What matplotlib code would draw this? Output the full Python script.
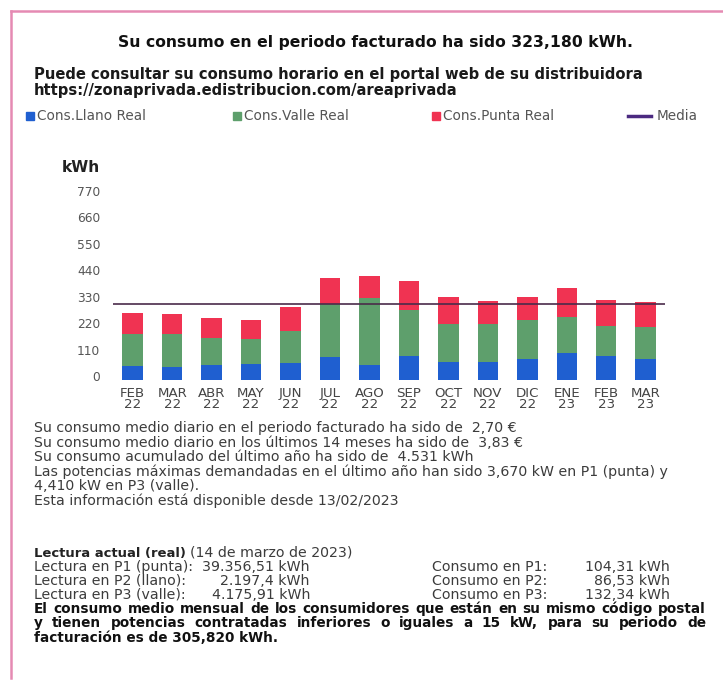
import numpy as np
import matplotlib
matplotlib.use('Agg')
import matplotlib.pyplot as plt
import matplotlib.transforms as mtransforms
from matplotlib.patches import Rectangle
from matplotlib.lines import Line2D

plt.rcParams['font.family'] = ['DejaVu Sans']

# Consumo mensual (kWh) por periodo
meses = ['FEB', 'MAR', 'ABR', 'MAY', 'JUN', 'JUL', 'AGO', 'SEP', 'OCT', 'NOV', 'DIC', 'ENE', 'FEB', 'MAR']
anios = ['22', '22', '22', '22', '22', '22', '22', '22', '22', '22', '22', '23', '23', '23']
llano = [58, 55, 62, 65, 72, 94, 62, 100, 75, 75, 86, 113, 100, 86.53]
valle = [133, 134, 113, 107, 131, 221, 277, 190, 156, 156, 165, 150, 125, 132.34]
punta = [89, 87, 84, 79, 101, 107, 94, 120, 113, 97, 95, 119, 108, 104.31]
media = 316
yticks = [0, 110, 220, 330, 440, 550, 660, 770]

AZUL = '#1f5fd0'
VERDE = '#5e9f6c'
ROJO = '#f03352'
MEDIA_COL = '#4a2b4a'
GRIS = '#3c3c3c'

W, H = 723, 682
fig = plt.figure(figsize=(W / 100, H / 100), dpi=100)
fig.patch.set_facecolor('white')
rend = fig.canvas.get_renderer()

# coordenadas en pixeles desde la esquina superior izquierda
px = mtransforms.Affine2D().scale(1 / W, -1 / H).translate(0, 1) + fig.transFigure


def txt(x, y, s, **kw):
    kw.setdefault('color', GRIS)
    kw.setdefault('va', 'center')
    return fig.text(x, y, s, transform=px, **kw)


def ancho(t):
    return t.get_window_extent(rend).width


def ajustar(t, w):
    # escala el tamaño de letra para que el texto ocupe w pixeles
    t.set_fontsize(t.get_fontsize() * w / ancho(t))
    return t.get_fontsize()


# marco rosa
fig.add_artist(Line2D([11, W], [11, 11], transform=px, color='#e58ab3', lw=1.8))
fig.add_artist(Line2D([11, 11], [11, H - 4], transform=px, color='#e58ab3', lw=1.8))

# cabecera
t = txt(376, 42, 'Su consumo en el periodo facturado ha sido 323,180 kWh.', ha='center',
        fontsize=11, fontweight='bold', color='#111111')
ajustar(t, 512)
t = txt(34, 75, 'Puede consultar su consumo horario en el portal web de su distribuidora',
        fontsize=10, fontweight='bold', color='#1a1a1a')
tam = ajustar(t, 606)
txt(34, 91, 'https://zonaprivada.edistribucion.com/areaprivada',
    fontsize=tam, fontweight='bold', color='#1a1a1a')

# informacion adicional (se mide primero para reutilizar el tamaño)
info = [
    'Su consumo medio diario en el periodo facturado ha sido de  2,70 \u20ac',
    'Su consumo medio diario en los \u00faltimos 14 meses ha sido de  3,83 \u20ac',
    'Su consumo acumulado del \u00faltimo a\u00f1o ha sido de  4.531 kWh',
    'Las potencias m\u00e1ximas demandadas en el \u00faltimo a\u00f1o han sido 3,670 kW en P1 (punta) y',
    '4,410 kW en P3 (valle).',
    'Esta informaci\u00f3n est\u00e1 disponible desde 13/02/2023',
]
t = txt(34, 428, info[0], fontsize=9)
tam_info = ajustar(t, 480)
for i, linea in enumerate(info[1:], start=1):
    txt(34, 428 + i * 14.6, linea, fontsize=tam_info)

# leyenda
ley = [(26, AZUL, 'Cons.Llano Real'), (233, VERDE, 'Cons.Valle Real'), (432, ROJO, 'Cons.Punta Real')]
tam_ley = tam_info * 0.97
for x0, col, nombre in ley:
    fig.add_artist(Rectangle((x0, 120), 8, -8, transform=px, color=col))
    txt(x0 + 11, 116, nombre, fontsize=tam_ley, color='#555555')
fig.add_artist(Line2D([628, 651], [116, 116], transform=px, color='#4b2a80', lw=2.5))
txt(657, 116, 'Media', fontsize=tam_ley, color='#555555')

# grafico de barras
x_l, x_r, y_b, y_t = 110, 670, 380, 380 - 800 * 0.2409
ax = fig.add_axes([x_l / W, 1 - y_b / H, (x_r - x_l) / W, (y_b - y_t) / H])
x = np.arange(len(meses))
base2 = np.array(llano) + np.array(valle)
ax.bar(x, llano, 0.52, color=AZUL)
ax.bar(x, valle, 0.52, bottom=llano, color=VERDE)
ax.bar(x, punta, 0.52, bottom=base2, color=ROJO)
ax.hlines(media, -0.5, 13.5, color=MEDIA_COL, lw=1.2)

ax.set_xlim(-0.575, 13.616)
ax.set_ylim(0, 800)
for s in ax.spines.values():
    s.set_visible(False)
ax.set_yticks(yticks)
ax.set_yticklabels([str(v) for v in yticks], fontsize=8.8, color='#555555')
ax.set_xticks(x)
ax.set_xticklabels([m + '\n' + a for m, a in zip(meses, anios)], fontsize=9.6,
                   color='#444444', linespacing=0.8)
ax.tick_params(length=0, axis='y', pad=7)
ax.tick_params(length=0, axis='x', pad=5)
sube = mtransforms.ScaledTranslation(0, 4 / 100, fig.dpi_scale_trans)
for lab in ax.get_yticklabels():
    lab.set_transform(lab.get_transform() + sube)

t = txt(62, 168, 'kWh', fontsize=10, fontweight='bold', color='#222222')
ajustar(t, 38)

# lecturas del contador
t = txt(34, 553, 'Lectura actual (real)', fontsize=tam_info * 0.93, fontweight='bold', color='#222222')
txt(34 + ancho(t) + 4, 553, '(14 de marzo de 2023)', fontsize=tam_info)

lecturas = ['39.356,51 kWh', '2.197,4 kWh', '4.175,91 kWh']
nombres_l = ['Lectura en P1 (punta):', 'Lectura en P2 (llano):', 'Lectura en P3 (valle):']
consumos = ['104,31 kWh', '86,53 kWh', '132,34 kWh']
for i in range(3):
    y = 567 + i * 14
    txt(34, y, nombres_l[i], fontsize=tam_info)
    txt(310, y, lecturas[i], fontsize=tam_info, ha='right')
    txt(432, y, 'Consumo en P%d:' % (i + 1), fontsize=tam_info)
    txt(670, y, consumos[i], fontsize=tam_info, ha='right')

# parrafo final justificado
parrafo = [
    'El consumo medio mensual de los consumidores que est\u00e1n en su mismo c\u00f3digo postal',
    'y tienen potencias contratadas inferiores o iguales a 15 kW, para su periodo de',
    'facturaci\u00f3n es de 305,820 kWh.',
]
x0, x1 = 34, 706
t = txt(x0, 609, parrafo[0], fontsize=9.5, fontweight='bold')
tam_p = ajustar(t, 664)
t.remove()
kw = dict(fontsize=tam_p, fontweight='bold', color='#111111')
for i, linea in enumerate(parrafo):
    y = 609 + i * 14.3
    if i == len(parrafo) - 1:
        txt(x0, y, linea, **kw)
        continue
    palabras = linea.split(' ')
    objs = [txt(0, y, p, **kw) for p in palabras]
    anchos = [ancho(o) for o in objs]
    hueco = (x1 - x0 - sum(anchos)) / (len(palabras) - 1)
    xp = x0
    for o, a in zip(objs, anchos):
        o.set_x(xp)
        xp += a + hueco

fig.savefig('out.png', dpi=100, facecolor='white')
